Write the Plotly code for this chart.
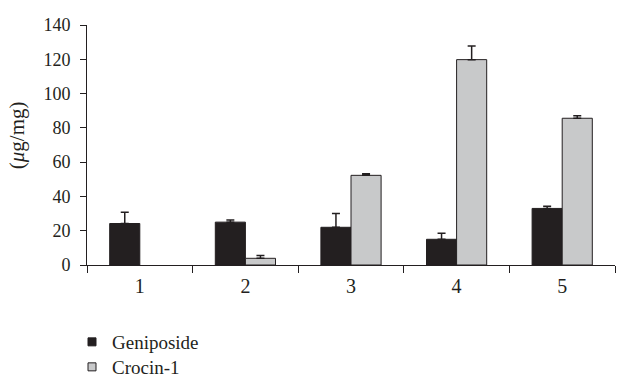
import plotly.graph_objects as go

categories = ["1", "2", "3", "4", "5"]
geniposide = [24.2, 25.0, 22.0, 15.0, 33.0]
geniposide_err = [6.5, 1.3, 8.0, 3.5, 1.3]
crocin = [None, 3.9, 52.3, 119.8, 85.6]
crocin_err = [None, 1.7, 1.0, 8.0, 1.5]
y_ticks = [0, 20, 40, 60, 80, 100, 120, 140]
y_title = "(<i>μ</i>g/mg)"

dark = "#231f20"
grey = "#c8c9ca"
font_family = "Liberation Serif, Times New Roman, serif"

fig = go.Figure()
fig.add_trace(go.Bar(
    x=categories, y=geniposide, name="Geniposide", showlegend=False,
    marker=dict(color=dark, line=dict(color=dark, width=1)),
    error_y=dict(type="data", array=geniposide_err, arrayminus=[0]*5, symmetric=False,
                 color=dark, thickness=1.5, width=4),
))
fig.add_trace(go.Bar(
    x=categories, y=crocin, name="Crocin-1", showlegend=False,
    marker=dict(color=grey, line=dict(color=dark, width=1)),
    error_y=dict(type="data", array=crocin_err, arrayminus=[0]*5, symmetric=False,
                 color=dark, thickness=1.5, width=4),
))
# legend-only traces with small square markers
fig.add_trace(go.Scatter(x=[None], y=[None], mode="markers", name="Geniposide",
                         legend="legend",
                         marker=dict(symbol="square", size=8, color=dark,
                                     line=dict(color=dark, width=1))))
fig.add_trace(go.Scatter(x=[None], y=[None], mode="markers", name="Crocin-1",
                         legend="legend2",
                         marker=dict(symbol="square", size=8, color=grey,
                                     line=dict(color=dark, width=1))))

fig.add_annotation(text=y_title, xref="paper", yref="paper", x=-0.131, y=0.54,
                   textangle=-90, showarrow=False, xanchor="center", yanchor="middle",
                   font=dict(family=font_family, size=21, color=dark))

legend_common = dict(x=72/618, xref="container", xanchor="left", yref="container",
                     yanchor="top", font=dict(family=font_family, size=19, color=dark),
                     itemwidth=30, bgcolor="rgba(0,0,0,0)")

fig.update_layout(
    width=618, height=377,
    margin=dict(l=87, r=3, t=25, b=112, autoexpand=False),
    paper_bgcolor="white", plot_bgcolor="white",
    barmode="group", bargap=0.43, bargroupgap=0,
    font=dict(family=font_family, size=18, color=dark),
    legend=dict(legend_common, y=1 - 323/377),
    legend2=dict(legend_common, y=1 - 348/377),
    xaxis=dict(type="category", tickson="boundaries", ticks="outside", ticklen=7,
               tickcolor=dark, showline=True, linecolor=dark, linewidth=1,
               showgrid=False, tickfont=dict(size=20), ticklabelstandoff=3),
    yaxis=dict(range=[0, 140], tickvals=y_ticks, ticks="outside", ticklen=6,
               tickcolor=dark, showline=True, linecolor=dark, linewidth=1,
               showgrid=False, zeroline=False, tickfont=dict(size=18),
               ticklabelstandoff=6),
)

fig.write_html("out.html", config={"displayModeBar": False},
               post_script="document.body.style.margin='0';")
